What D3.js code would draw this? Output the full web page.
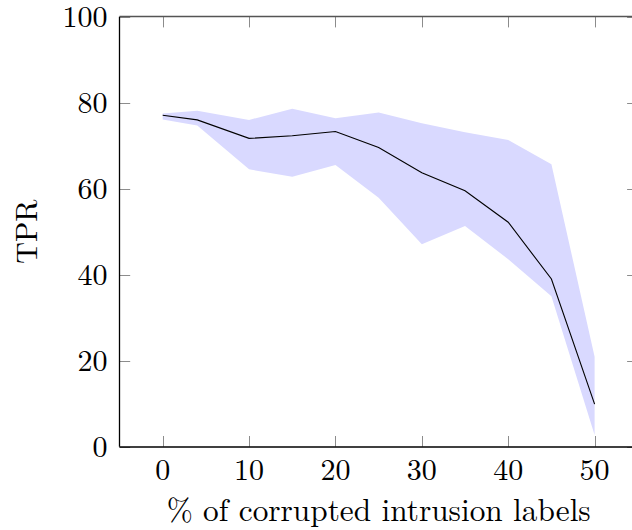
<!DOCTYPE html>
<html>
<head>
<meta charset="utf-8">
<script src="https://cdn.jsdelivr.net/npm/d3@7"></script>
<style>
  html, body { margin: 0; padding: 0; background: #fff; }
  svg { display: block; }
</style>
</head>
<body>
<svg id="chart" width="632" height="530"></svg>
<script>
const xValues   = [0, 4, 10, 15, 20, 25, 30, 35, 40, 45, 50];
const meanTPR   = [77.1, 76.0, 71.7, 72.3, 73.3, 69.6, 63.7, 59.5, 52.2, 39.0, 9.9];
const upperTPR  = [77.5, 78.1, 76.0, 78.6, 76.4, 77.7, 75.2, 73.1, 71.3, 65.7, 20.9];
const lowerTPR  = [76.1, 74.7, 64.5, 62.8, 65.5, 57.9, 47.1, 51.3, 43.6, 35.0, 2.7];
const xTicks    = [0, 10, 20, 30, 40, 50];
const yTicks    = [0, 20, 40, 60, 80, 100];
const xLabel    = "% of corrupted intrusion labels";
const yLabel    = "TPR";

(function () {
const data = xValues.map((x, i) => ({ x, m: meanTPR[i], hi: upperTPR[i], lo: lowerTPR[i] }));

const FONT = '"Latin Modern Roman", "Liberation Serif", serif';
const svg = d3.select("#chart");
const pl = 119.5, pr = 637.8, pt = 16.7, pb = 446.7;
const x = d3.scaleLinear().domain([-5, 55]).range([pl, pr]);
const y = d3.scaleLinear().domain([0, 100]).range([pb, pt]);
const fs = 30;
const tickLen = 10.7;

// band
svg.append("path")
  .datum(data)
  .attr("fill", "#d9d9ff")
  .attr("stroke", "none")
  .attr("d", d3.area().x(d => x(d.x)).y0(d => y(d.lo)).y1(d => y(d.hi)));

// mean line
svg.append("path")
  .datum(data)
  .attr("fill", "none")
  .attr("stroke", "#000")
  .attr("stroke-width", 1.1)
  .attr("d", d3.line().x(d => x(d.x)).y(d => y(d.m)));

// ticks (inward, gray)
const tickColor = "#8c8c8c";
const gt = svg.append("g").attr("stroke", tickColor).attr("stroke-width", 1);
xTicks.forEach(t => {
  const px = Math.round(x(t)) + 0.5;
  gt.append("line").attr("x1", px).attr("x2", px).attr("y1", pb).attr("y2", pb - tickLen);
  gt.append("line").attr("x1", px).attr("x2", px).attr("y1", pt).attr("y2", pt + tickLen);
});
yTicks.forEach(t => {
  const py = Math.round(y(t)) + 0.5;
  gt.append("line").attr("x1", pl).attr("x2", pl + tickLen).attr("y1", py).attr("y2", py);
  gt.append("line").attr("x1", pr).attr("x2", pr - tickLen).attr("y1", py).attr("y2", py);
});

// frame
svg.append("line").attr("x1", pl).attr("x2", pr).attr("y1", 16.5).attr("y2", 16.5)
  .attr("stroke", "#555").attr("stroke-width", 1.3);
svg.append("line").attr("x1", pl).attr("x2", pr).attr("y1", 447).attr("y2", 447)
  .attr("stroke", "#000").attr("stroke-width", 1.3);
svg.append("line").attr("x1", 119.5).attr("x2", 119.5).attr("y1", pt).attr("y2", pb)
  .attr("stroke", "#000").attr("stroke-width", 1.3);
svg.append("line").attr("x1", pr).attr("x2", pr).attr("y1", pt).attr("y2", pb)
  .attr("stroke", "#000").attr("stroke-width", 1.3);

// tick labels
svg.append("g").selectAll("text").data(xTicks).join("text")
  .attr("x", d => x(d)).attr("y", pb + 33)
  .attr("text-anchor", "middle").attr("font-size", fs)
  .style("font-family", FONT).attr("fill", "#000")
  .text(d => d);
svg.append("g").selectAll("text").data(yTicks).join("text")
  .attr("x", pl - 12).attr("y", d => y(d)).attr("dy", "0.34em")
  .attr("text-anchor", "end").attr("font-size", fs)
  .style("font-family", FONT).attr("fill", "#000")
  .text(d => d);

// axis labels
svg.append("text")
  .attr("x", (pl + pr) / 2).attr("y", 521)
  .attr("text-anchor", "middle").attr("font-size", 31.3)
  .style("font-family", FONT).attr("fill", "#000")
  .text(xLabel);
svg.append("text")
  .attr("transform", `translate(36.5, ${(pt + pb) / 2}) rotate(-90)`)
  .attr("text-anchor", "middle").attr("font-size", fs)
  .style("font-family", FONT).attr("fill", "#000")
  .text(yLabel);
})();
</script>
</body>
</html>
